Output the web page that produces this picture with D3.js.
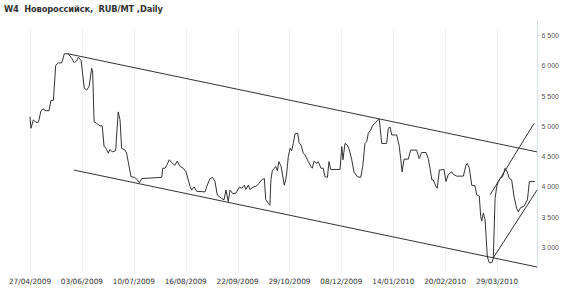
<!DOCTYPE html>
<html>
<head>
  <meta charset="UTF-8">
  <title>W4 Новороссийск</title>
  <style>
    body { margin: 0; padding: 0; background: #fff; }
    svg { display: block; font-family: "DejaVu Sans", Verdana, sans-serif; }
    .title { font-size: 8.3px; font-weight: bold; fill: #333; white-space: pre; }
    .xlab { font-size: 7.3px; fill: #333; }
    .yaxis text { font-size: 7px; fill: #555; }
    .yaxis path, .yaxis line { stroke: #d5e2ee; }
    .grid line { stroke: #edf3f9; }
  </style>
</head>
<body>
  <svg id="chart" width="570" height="292"></svg>
  <script src="https://cdnjs.cloudflare.com/ajax/libs/d3/7.8.4/d3.min.js"></script>
  <script>
    // trading-day index of each tick label
    const tickDays = [0, 26, 52, 78, 104, 130, 156, 182, 208, 234];
    const tickLabels = ["27/04/2009", "03/06/2009", "10/07/2009", "16/08/2009", "22/09/2009",
      "29/10/2009", "08/12/2009", "14/01/2010", "20/02/2010", "29/03/2010"];
    const yTicks = [3000, 3500, 4000, 4500, 5000, 5500, 6000, 6500];

    // price path (day index, RUB/MT)
    const days = [0, 0.5, 1.7, 2.5, 3.9, 4.5, 5.5, 6.5, 7.9, 9.5, 10.5, 11.7, 12.9, 14.2, 15.9, 17.2, 19.2,
      20.9, 22.2, 23.4, 24.2, 25.6, 27.2, 28.4, 29.6, 30.9, 31.4, 32.1, 33.4, 35.1, 36.2, 37.1, 38.1,
      39.2, 40.1, 41.2, 42.9, 44.2, 45.1, 45.9, 47.6, 48.4, 50.6, 52.3, 53.5, 54.8, 56.0, 66.0, 66.5,
      67.6, 68.5, 69.8, 71.0, 72.6, 73.8, 75.2, 76.8, 78.2, 80.2, 81.0, 82.2, 83.5, 87.7, 88.8, 90.2,
      91.5, 92.7, 93.8, 96.0, 97.2, 98.2, 99.3, 100.2, 101.6, 103.2, 104.9, 106.1, 107.4, 108.1, 109.4,
      110.2, 111.9, 113.6, 114.7, 116.1, 117.4, 118.1, 119.4, 120.2, 120.7, 121.4, 122.4, 123.1, 123.9,
      124.7, 125.8, 127.4, 128.1, 128.6, 129.4, 130.3, 131.1, 131.9, 132.8, 134.1, 134.8, 135.8, 136.9,
      137.8, 139.4, 140.8, 141.4, 142.4, 143.6, 144.4, 145.8, 146.9, 147.8, 149.0, 149.8, 150.7, 155.3,
      156.2, 156.8, 157.8, 159.0, 160.0, 161.2, 162.3, 164.0, 165.7, 166.7, 167.8, 168.7, 169.5, 170.7,
      171.7, 172.8, 174.0, 175.0, 176.2, 178.7, 179.5, 180.4, 181.2, 183.7, 185.0, 185.7, 186.4, 187.4,
      189.5, 190.7, 193.7, 195.0, 196.2, 198.4, 199.5, 200.4, 201.3, 202.0, 203.4, 204.0, 205.1, 207.4,
      208.4, 209.6, 211.3, 212.1, 213.8, 217.1, 218.4, 219.1, 220.1, 221.3, 222.9, 223.8, 225.1, 225.8,
      226.3, 227.1, 228.0, 229.1, 230.1, 231.3, 232.1, 233.0, 233.8, 234.6, 235.5, 236.8, 238.0, 239.1,
      240.1, 241.3, 242.5, 243.8, 244.6, 245.8, 247.5, 249.2, 250.2, 253.0];
    const prices = [5150, 4960, 5100, 5070, 5050, 5100, 5250, 5280, 5250, 5250, 5420, 5420, 6000, 6040, 6040, 6190, 6190,
      6115, 6040, 6080, 6130, 6080, 5620, 5590, 5650, 5950, 5890, 5070, 5040, 5000, 5000, 4660, 4630,
      4550, 4610, 4570, 4590, 5230, 5100, 4630, 4600, 4550, 4160, 4150, 4120, 4060, 4130, 4150, 4300,
      4300, 4350, 4440, 4390, 4350, 4420, 4330, 4300, 4240, 4000, 3940, 3990, 3920, 3910, 4020, 4130,
      4150, 4080, 3860, 3800, 3780, 3940, 3750, 3940, 3880, 3890, 3990, 3970, 4020, 3950, 4020,
      3950, 3990, 4010, 4050, 4110, 4130, 3780, 3720, 3690, 4110, 4260, 4300, 4330, 4260,
      4410, 4330, 4020, 4110, 4220, 4490, 4630, 4590, 4710, 4870, 4880, 4720, 4680, 4550,
      4520, 4410, 4330, 4300, 4420, 4380, 4410, 4300, 4300, 4160, 4150, 4410, 4280, 4280,
      4660, 4440, 4710, 4680, 4600, 4440, 4240, 4160, 4150, 4330, 4710, 4740, 4880, 4930,
      5010, 5040, 5090, 5110, 4710, 4710, 4960, 4980, 4850, 4850, 4660, 4460, 4240, 4450,
      4450, 4600, 4600, 4460, 4560, 4560, 4460, 4300, 4110, 4110, 4000, 3970, 4270, 4280,
      4080, 4200, 4240, 4200, 4170, 4170, 4350, 4380, 4300, 4020, 4010, 3860, 3840, 3500,
      3430, 3560, 3450, 2840, 2740, 2740, 2810, 3800, 3990, 4080, 4130, 4160, 4300, 4240,
      4130, 4110, 3830, 3640, 3580, 3650, 3670, 3780, 4080, 4080];

    // trend lines drawn on the chart: [startDay, startPrice, endDay, endPrice]
    const trendLines = [
      [19, 6190, 254, 4570],
      [22, 4270, 254, 2670],
      [230.5, 3860, 252.5, 5040],
      [232.1, 2820, 254, 3940]
    ];

    const svg = d3.select("#chart");
    const plotTop = 28, plotBottom = 273, axisX = 537;

    const x = d3.scaleLinear().domain([0, 254]).range([30, axisX]);
    const y = d3.scaleLinear().domain([3000, 6500]).range([247, 35]);

    svg.append("text")
      .attr("class", "title")
      .attr("x", 4)
      .attr("y", 12)
      .attr("xml:space", "preserve")
      .attr("textLength", 159)
      .attr("lengthAdjust", "spacing")
      .text("W4  Новороссийск,  RUB/MT ,Daily");

    // vertical grid
    svg.append("g")
      .attr("class", "grid")
      .selectAll("line")
      .data(tickDays)
      .enter()
      .append("line")
      .attr("x1", d => Math.round(x(d)) + 0.5)
      .attr("x2", d => Math.round(x(d)) + 0.5)
      .attr("y1", plotTop)
      .attr("y2", plotBottom);

    // x labels
    svg.append("g")
      .selectAll("text")
      .data(tickDays)
      .enter()
      .append("text")
      .attr("class", "xlab")
      .attr("x", d => x(d))
      .attr("y", 284)
      .attr("text-anchor", "middle")
      .text((d, i) => tickLabels[i]);

    // right axis
    const yAxis = d3.axisRight(y)
      .tickValues(yTicks)
      .tickSize(2)
      .tickPadding(2)
      .tickFormat(d => d3.format(",")(d).replace(",", " "));
    const ga = svg.append("g")
      .attr("class", "yaxis")
      .attr("transform", `translate(${axisX + 0.5},0)`)
      .call(yAxis);
    ga.select(".domain").remove();
    ga.append("line")
      .attr("y1", plotTop - 8)
      .attr("y2", plotBottom - 4);
    ga.selectAll("text").attr("dy", "0.35em");

    // price line
    const line = d3.line()
      .x((d, i) => x(days[i]))
      .y(d => y(d));
    svg.append("path")
      .datum(prices)
      .attr("fill", "none")
      .attr("stroke", "#333")
      .attr("stroke-width", 1)
      .attr("d", line);

    // trend lines
    svg.append("g")
      .selectAll("line")
      .data(trendLines)
      .enter()
      .append("line")
      .attr("x1", d => x(d[0]))
      .attr("y1", d => y(d[1]))
      .attr("x2", d => x(d[2]))
      .attr("y2", d => y(d[3]))
      .attr("stroke", "#333")
      .attr("stroke-width", 1);
  </script>
</body>
</html>
